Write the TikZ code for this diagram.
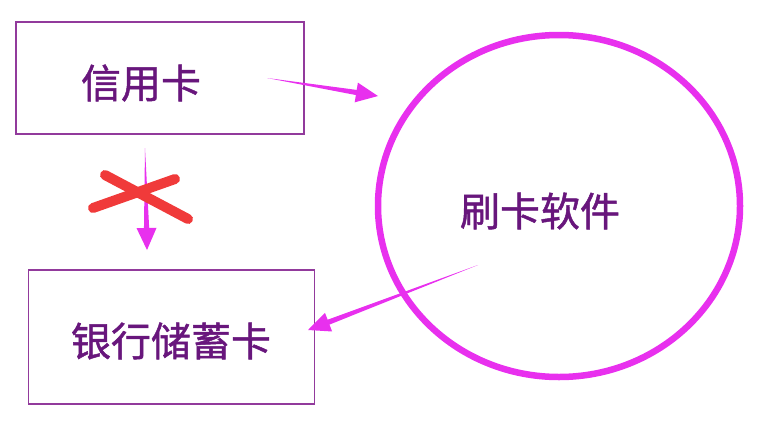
\documentclass[tikz,border=0pt]{standalone}
\usepackage{fontspec}
\newfontfamily\cjk[FakeBold=1.2]{Noto Sans CJK SC}
\usetikzlibrary{calc,shapes.geometric}
\definecolor{mag}{RGB}{232,48,238}
\definecolor{boxline}{RGB}{146,58,156}
\definecolor{txt}{RGB}{104,22,124}
\definecolor{cross}{RGB}{240,58,58}

% tapered arrow: #1 tail, #2 tip
\newcommand\taperarrow[2]{%
  \path ($(#2)!22pt!(#1)$) coordinate (hb);
  \fill[mag] (#1) -- ($(hb)!2.6pt!90:(#1)$) -- ($(hb)!10pt!90:(#1)$) -- (#2)
    -- ($(hb)!10pt!-90:(#1)$) -- ($(hb)!2.6pt!-90:(#1)$) -- cycle;}

\begin{document}
\begin{tikzpicture}[x=1pt,y=-1pt,
    box/.style={draw=boxline,line width=1.2pt,inner sep=0pt},
    lbl/.style={text=txt,font=\cjk\fontsize{40}{48}\selectfont,inner sep=0pt},
    app/.style={ellipse,draw=mag,line width=6.5pt,inner sep=0pt,minimum width=362pt,minimum height=342pt}]
  \useasboundingbox (0,0) rectangle (765,426);

  \node[box,minimum width=288pt,minimum height=112pt] (credit) at (160,78) {};
  \node[lbl] (creditlbl) at (141,83) {信用卡};
  \node[box,minimum width=286pt,minimum height=134pt] (debit) at (171.5,337) {};
  \node[lbl] (debitlbl) at (171,341) {银行储蓄卡};
  \node[app] (swipe) at (559,206) {};
  \node[lbl] (swipelbl) at (540,211) {刷卡软件};

  \coordinate (c1) at (267,78);
  \coordinate (c2) at (378,96);
  \coordinate (c3) at (478,265);
  \coordinate (c4) at (308,330);
  \coordinate (c5) at (145,148);
  \coordinate (c6) at (147,250);
  \taperarrow{c1}{c2}
  \taperarrow{c3}{c4}
  \taperarrow{c5}{c6}

  % the cross
  \coordinate (x1) at (105,175);
  \coordinate (x2) at (188,219);
  \coordinate (x3) at (93,208);
  \coordinate (x4) at (175,179);
  \draw[cross,line width=10pt,line cap=round] (x1) -- (x2);
  \draw[cross,line width=10pt,line cap=round] (x3) -- (x4);
\end{tikzpicture}
\end{document}
